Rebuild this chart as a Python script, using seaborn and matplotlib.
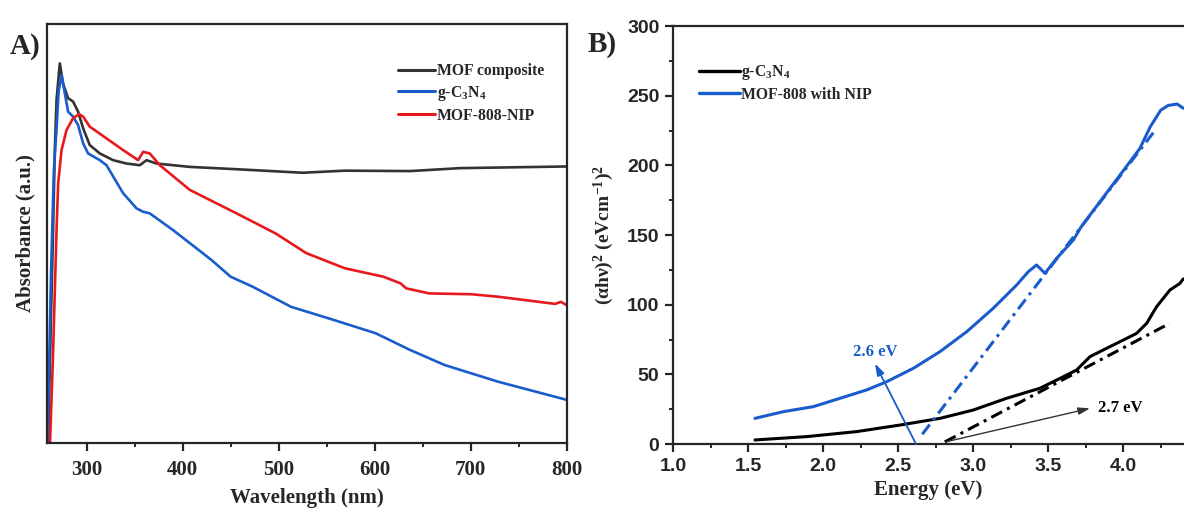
import numpy as np
import pandas as pd
import matplotlib
matplotlib.use("Agg")
import matplotlib.pyplot as plt
import seaborn as sns
from matplotlib.ticker import MultipleLocator, FormatStrFormatter
from matplotlib.lines import Line2D

# ---------------- data: panel A (UV-vis absorbance, a.u.) ----------------
mof_wl = [260, 263, 265.2, 267, 268.8, 272.2, 275.6, 280.8, 286, 291.2, 296.5, 303.4,
          313.9, 327.8, 341.7, 355.5, 362.5, 372.9, 407.6, 459.7, 525, 569, 637,
          689, 800]
mof_abs = [0.0, 0.3, 0.508, 0.699, 0.819, 0.906, 0.858, 0.823, 0.815, 0.791, 0.751,
           0.711, 0.691, 0.675, 0.667, 0.663, 0.675, 0.667, 0.659, 0.653, 0.645,
           0.650, 0.649, 0.656, 0.660]

cn_wl = [259.5, 263, 266, 268.8, 271, 274, 277.4, 280.8, 286, 291.2, 296.5, 301.7,
         313.9, 320.8, 327.8, 338.2, 352.1, 359, 365.9, 390.2, 430, 450, 473, 513,
         557, 601, 637, 673, 729, 800]
cn_abs = [0.0, 0.4, 0.65, 0.75, 0.84, 0.878, 0.835, 0.791, 0.779, 0.759, 0.715,
          0.691, 0.675, 0.663, 0.636, 0.596, 0.560, 0.552, 0.548, 0.508, 0.437,
          0.397, 0.373, 0.325, 0.294, 0.262, 0.222, 0.186, 0.146, 0.103]

nip_wl = [262, 265, 268.8, 270.5, 274, 279.2, 286, 292.3, 296.5, 303.4, 320.8,
          338.2, 353.8, 359, 365.9, 376.4, 407.6, 459.7, 497, 529, 569, 609, 627,
          633, 657, 701, 729, 788, 794, 800]
nip_abs = [0.0, 0.2, 0.508, 0.620, 0.699, 0.747, 0.775, 0.785, 0.779, 0.755, 0.727,
           0.699, 0.675, 0.695, 0.691, 0.663, 0.604, 0.544, 0.500, 0.453, 0.417,
           0.397, 0.381, 0.369, 0.357, 0.355, 0.349, 0.332, 0.337, 0.329]

labels_A = ["MOF composite", "g-C$_3$N$_4$", "MOF-808-NIP"]

# ---------------- data: panel B (Tauc plot) ----------------
tc_cn_E = [1.544, 1.889, 2.222, 2.511, 2.778, 3.0, 3.222, 3.444, 3.556, 3.689,
           3.778, 3.889, 4.0, 4.089, 4.156, 4.222, 4.311, 4.378, 4.40]
tc_cn_val = [2.9, 5.3, 8.9, 13.6, 18.4, 24.4, 32.8, 40.0, 45.9, 53.1, 62.7, 68.7,
             74.6, 79.4, 86.6, 98.5, 110.5, 115.3, 118.5]

tc_nip_E = [1.544, 1.733, 1.933, 2.111, 2.289, 2.422, 2.60, 2.778, 2.956, 3.133,
            3.289, 3.367, 3.422, 3.478, 3.556, 3.667, 3.72, 3.87, 4.02, 4.11,
            4.18, 4.25, 4.30, 4.36, 4.40]
tc_nip_val = [18.4, 23.2, 26.8, 32.8, 38.8, 44.7, 54.3, 66.3, 80.6, 97.4, 114.1,
              123.7, 128.5, 122.5, 133.3, 146.4, 156, 177.5, 199, 212, 227.7,
              239.6, 243, 244, 241]

fit_nip_E = [2.66, 4.20]
fit_nip_val = [7.0, 223.4]
fit_cn_E = [2.81, 4.31]
fit_cn_val = [1.5, 86.6]

labels_B = ["g-C$_3$N$_4$", "MOF-808 with NIP"]
gap_nip = "2.6 eV"
gap_cn = "2.7 eV"

# ---------------- style ----------------
sns.set_style("ticks")
plt.rcParams["font.family"] = ["Liberation Serif", "DejaVu Serif"]
plt.rcParams["font.weight"] = "bold"
plt.rcParams["axes.labelweight"] = "bold"
plt.rcParams["mathtext.fontset"] = "custom"
plt.rcParams["mathtext.rm"] = "Liberation Serif:bold"
plt.rcParams["mathtext.it"] = "Liberation Serif:bold:italic"
plt.rcParams["mathtext.bf"] = "Liberation Serif:bold"
plt.rcParams["axes.linewidth"] = 1.6
plt.rcParams["lines.solid_joinstyle"] = "round"

BLACK_A = "#333333"
BLUE = "#1a5ccc"
RED = "#e8191c"

fig = plt.figure(figsize=(11.84, 5.11), dpi=100)
axA = fig.add_axes([0.0394, 0.1331, 0.4392, 0.8199])
axB = fig.add_axes([0.5687, 0.1311, 0.4313, 0.8180])

# ---------------- panel A ----------------
sns.lineplot(x=mof_wl, y=mof_abs, ax=axA, color=BLACK_A, lw=1.9, sort=False, estimator=None)
sns.lineplot(x=cn_wl, y=cn_abs, ax=axA, color=BLUE, lw=1.9, sort=False, estimator=None)
sns.lineplot(x=nip_wl, y=nip_abs, ax=axA, color=RED, lw=1.9, sort=False, estimator=None)
axA.set_xlim(258.5, 800)
axA.set_ylim(0, 1)
axA.set_yticks([])
axA.xaxis.set_major_locator(MultipleLocator(100))
axA.xaxis.set_minor_locator(MultipleLocator(50))
axA.tick_params(axis="x", which="major", direction="out", length=6, width=1.6,
                labelsize=15, pad=6)
axA.tick_params(axis="x", which="minor", direction="out", length=3, width=1.4)
for lab in axA.get_xticklabels():
    lab.set_fontweight("bold")
axA.set_xlabel("Wavelength (nm)", fontsize=15, fontweight="bold", labelpad=6)
axA.set_ylabel("Absorbance (a.u.)", fontsize=15, fontweight="bold", labelpad=8)
for s in axA.spines.values():
    s.set_visible(True)
    s.set_linewidth(1.6)
hA = [Line2D([], [], color=c, lw=2.2) for c in (BLACK_A, BLUE, RED)]
axA.legend(hA, labels_A, loc="upper left", bbox_to_anchor=(0.648, 0.94),
           frameon=False, handlelength=2.4, handletextpad=0.1,
           labelspacing=0.3, prop={"weight": "bold", "size": 11.3})

# ---------------- panel B ----------------
sns.lineplot(x=tc_cn_E, y=tc_cn_val, ax=axB, color="black", lw=2.2, sort=False, estimator=None)
sns.lineplot(x=tc_nip_E, y=tc_nip_val, ax=axB, color=BLUE, lw=2.2, sort=False, estimator=None)
sns.lineplot(x=fit_nip_E, y=fit_nip_val, ax=axB, color=BLUE, lw=2.2, sort=False,
             estimator=None, linestyle=(0, (4, 1.8, 1, 1.8)))
sns.lineplot(x=fit_cn_E, y=fit_cn_val, ax=axB, color="black", lw=2.2, sort=False,
             estimator=None, linestyle=(0, (4, 1.8, 1, 1.8)))
axB.set_xlim(1.0, 4.405)
axB.set_ylim(0, 300)
axB.xaxis.set_major_locator(MultipleLocator(0.5))
axB.xaxis.set_minor_locator(MultipleLocator(0.25))
axB.yaxis.set_major_locator(MultipleLocator(50))
axB.yaxis.set_minor_locator(MultipleLocator(25))
axB.tick_params(which="major", direction="out", length=6, width=1.6, labelsize=14, pad=4)
axB.tick_params(which="minor", direction="out", length=3, width=1.4)
axB.xaxis.set_major_formatter(FormatStrFormatter("%.1f"))
for lab in axB.get_xticklabels() + axB.get_yticklabels():
    lab.set_fontfamily("Liberation Sans")
    lab.set_fontweight("bold")
axB.spines["right"].set_visible(False)
axB.spines["top"].set_visible(True)
axB.set_xlabel("Energy (eV)", fontsize=15, fontweight="bold", labelpad=4)
axB.set_ylabel("(αhν)$^2$ (eVcm$^{-1}$)$^2$", fontsize=14, fontweight="bold", labelpad=8)

axB.annotate("", xy=(2.344, 57.9), xytext=(2.618, 0),
             arrowprops=dict(arrowstyle="-|>,head_length=0.7,head_width=0.22",
                             color=BLUE, lw=1.3, shrinkA=0, shrinkB=0))
axB.text(2.344, 66.3, gap_nip, color=BLUE, fontsize=12, fontweight="bold",
         ha="center", va="center")
axB.annotate("", xy=(3.778, 25.6), xytext=(2.822, 1.7),
             arrowprops=dict(arrowstyle="-|>,head_length=0.7,head_width=0.22",
                             color="#333333", lw=1.0, shrinkA=0, shrinkB=0))
axB.text(3.833, 25.6, gap_cn, color="black", fontsize=12, fontweight="bold",
         ha="left", va="center")

hB = [Line2D([], [], color=c, lw=2.4) for c in ("black", BLUE)]
axB.legend(hB, labels_B, loc="upper left", bbox_to_anchor=(0.022, 0.945),
           frameon=False, handlelength=2.6, handletextpad=0.1, labelspacing=0.3,
           prop={"weight": "bold", "size": 11.3})

fig.text(10 / 1184, 1 - 46 / 511, "A)", fontsize=21, fontweight="bold", va="center", ha="left")
fig.text(588 / 1184, 1 - 44 / 511, "B)", fontsize=21, fontweight="bold", va="center", ha="left")

fig.savefig("out.png", dpi=100)
